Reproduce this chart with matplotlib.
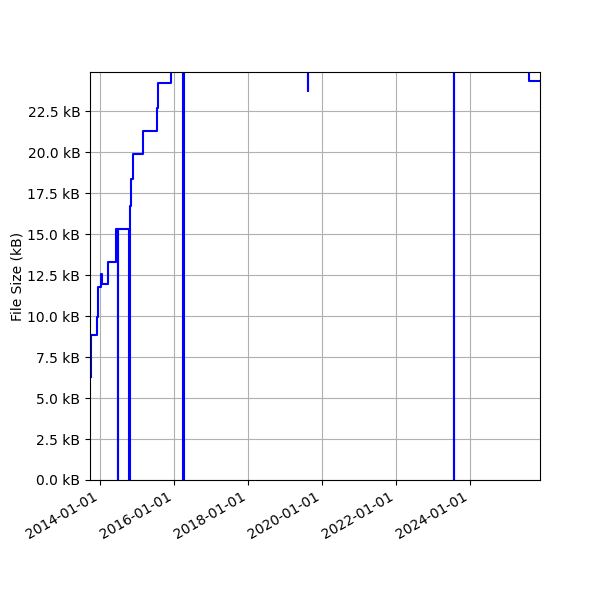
import numpy as np
import pandas as pd
import matplotlib
matplotlib.use('Agg')
import matplotlib.pyplot as plt
import matplotlib.dates as mdates
from matplotlib.ticker import StrMethodFormatter, MultipleLocator

# commit dates and file size (kB)
dates = ['2013-10-04', '2013-10-05', '2013-12-02', '2013-12-12', '2014-01-11',
         '2014-01-14', '2014-03-18', '2014-06-05', '2014-06-25', '2014-06-29',
         '2014-10-14', '2014-10-18', '2014-11-02', '2014-11-20', '2015-02-24',
         '2015-07-18', '2015-07-28', '2015-12-03', '2016-03-30', '2016-04-03',
         '2019-08-13', '2019-08-16', '2023-07-25', '2023-07-29', '2025-08-06',
         '2025-11-20']
sizes_kb = [6.28, 8.86, 9.96, 11.75, 12.56,
            11.95, 13.29, 15.28, 0.0, 15.28,
            0.0, 16.7, 18.33, 19.9, 21.3,
            22.7, 24.19, 25.6, 0.0, 25.6,
            23.72, 25.6, 0.0, 25.6, 24.31,
            24.31]

x = pd.to_datetime(dates)

fig, ax = plt.subplots(figsize=(6, 6), dpi=100)
ax.plot(x, sizes_kb, color='b', linewidth=1.5, drawstyle='steps-post')

ax.set_ylabel('File Size (kB)', labelpad=2)
ax.yaxis.set_major_locator(MultipleLocator(2.5))
ax.yaxis.set_major_formatter(StrMethodFormatter('{x:.1f} kB'))
ax.set_ylim(0, 24.88)
ax.set_xlim(pd.Timestamp('2013-09-22'), pd.Timestamp('2025-11-20'))
ax.xaxis.set_major_locator(mdates.YearLocator(2))
ax.xaxis.set_major_formatter(mdates.DateFormatter('%Y-%m-%d'))
ax.grid(True)
ax.set_axisbelow(True)

fig.autofmt_xdate()
fig.subplots_adjust(left=0.15, right=0.9, top=0.88, bottom=0.2)
fig.savefig('out.png')
